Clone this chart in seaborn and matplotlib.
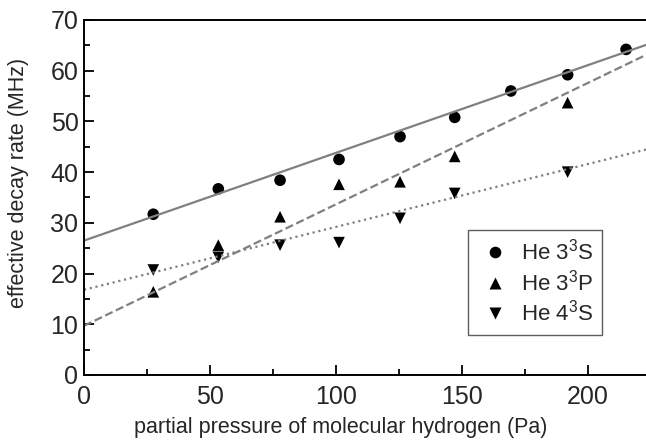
import numpy as np
import pandas as pd
import matplotlib
matplotlib.use("Agg")
import matplotlib.pyplot as plt
import seaborn as sns
from matplotlib.ticker import MultipleLocator

# measured decay rates (MHz) vs H2 partial pressure (Pa)
p_33s = [27.5, 53.3, 77.8, 101.2, 125.4, 147.1, 169.4, 191.9, 215.1]
rate_33s = [31.7, 36.7, 38.4, 42.5, 47.0, 50.8, 56.0, 59.2, 64.2]

p_33p = [27.5, 53.3, 77.8, 101.2, 125.4, 147.1, 191.9]
rate_33p = [16.4, 25.6, 31.2, 37.6, 38.1, 43.1, 53.7]

p_43s = [27.5, 53.3, 77.8, 101.2, 125.4, 147.1, 191.9]
rate_43s = [20.7, 23.2, 25.6, 26.1, 30.9, 35.8, 40.0]

labels = [r'He 3$^3$S', r'He 3$^3$P', r'He 4$^3$S']
# linear fits: intercept (MHz), slope (MHz/Pa)
fit_intercept = [26.5, 9.7, 16.8]
fit_slope = [0.173, 0.2395, 0.124]

sns.set_theme(style="ticks")
plt.rcParams['font.family'] = ['Liberation Sans', 'DejaVu Sans']
plt.rcParams['mathtext.fontset'] = 'custom'
plt.rcParams['mathtext.rm'] = 'Liberation Sans'
plt.rcParams['mathtext.it'] = 'Liberation Sans'

pts = pd.DataFrame({
    'p': p_33s + p_33p + p_43s,
    'rate': rate_33s + rate_33p + rate_43s,
    'state': [labels[0]] * len(p_33s) + [labels[1]] * len(p_33p) + [labels[2]] * len(p_43s),
})

xfit = np.array([0, 225])
fits = pd.DataFrame({
    'p': np.tile(xfit, 3),
    'rate': np.concatenate([b + m * xfit for b, m in zip(fit_intercept, fit_slope)]),
    'state': np.repeat(labels, 2),
})

fig = plt.figure(figsize=(6.46, 4.42), dpi=100)
ax = fig.add_axes([0.130, 0.1516, 0.87, 0.8032])

styles = ['-', '--', ':']
for lab, ls in zip(labels, styles):
    d = fits[fits.state == lab]
    sns.lineplot(data=d, x='p', y='rate', ax=ax, color='#808080', lw=1.6,
                 linestyle=ls, legend=False)

sns.scatterplot(data=pts, x='p', y='rate', style='state', markers=['o', '^', 'v'],
                style_order=labels, color='black', s=70, edgecolor='none', ax=ax)

ax.set_xlim(0, 223)
ax.set_ylim(0, 70)
ax.xaxis.set_major_locator(MultipleLocator(50))
ax.xaxis.set_minor_locator(MultipleLocator(25))
ax.yaxis.set_major_locator(MultipleLocator(10))
ax.yaxis.set_minor_locator(MultipleLocator(5))
ax.tick_params(which='both', direction='in', width=1.3, color='black',
               top=False, right=False)
ax.tick_params(axis='x', pad=7)
ax.tick_params(axis='y', pad=4)
ax.tick_params(which='major', length=7)
ax.tick_params(which='minor', length=4)
for lbl in ax.get_xticklabels() + ax.get_yticklabels():
    lbl.set_fontsize(18)
for side in ['left', 'bottom', 'top']:
    ax.spines[side].set_linewidth(1.4)
    ax.spines[side].set_color('black')
ax.spines['right'].set_visible(False)

ax.set_xlabel('partial pressure of molecular hydrogen (Pa)', fontsize=15.5)
ax.set_ylabel('effective decay rate (MHz)', fontsize=15.5)
ax.xaxis.set_label_coords(0.457, -0.118)
ax.yaxis.set_label_coords(-0.098, 0.541)

leg = ax.legend(loc='upper left', bbox_to_anchor=(0.683, 0.408), fontsize=16,
                frameon=True, fancybox=False, edgecolor='#333333', handletextpad=0.4,
                borderpad=0.4, labelspacing=0.2, markerscale=1.0, handlelength=1.6,
                borderaxespad=0)
leg.get_frame().set_linewidth(1.0)

fig.savefig('out.png', dpi=100)
